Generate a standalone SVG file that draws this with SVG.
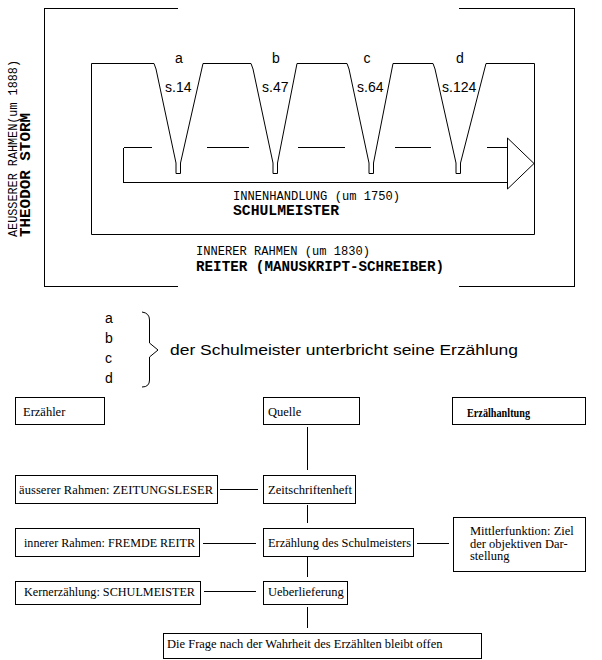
<svg xmlns="http://www.w3.org/2000/svg" width="602" height="660" viewBox="0 0 602 660">
<style>
.ln{fill:none;stroke:#000;stroke-width:1;shape-rendering:crispEdges}
.sl{fill:none;stroke:#000;stroke-width:1}
.bx{fill:#fff;stroke:#000;stroke-width:1;shape-rendering:crispEdges}
.mono{font-family:"Liberation Mono","Courier New",monospace;font-size:12px;fill:#000}
.monob{font-family:"Liberation Mono","Courier New",monospace;font-size:14px;font-weight:bold;fill:#000}
.sans{font-family:"Liberation Sans",Arial,sans-serif;font-size:14px;fill:#000}
.ser{font-family:"Liberation Serif","Times New Roman",serif;font-size:12.5px;fill:#000}
</style>
<rect width="602" height="660" fill="#fff"/>

<g id="outer-frame">
<path class="ln" d="M178,8.5H44.5V286.5H178M459,8.5H574.5V286.5H459"/>
<text class="mono" transform="translate(17,237) rotate(-90)" textLength="177" lengthAdjust="spacingAndGlyphs">AEUSSERER RAHMEN(um 1888)</text>
<text class="monob" transform="translate(30,237) rotate(-90)" textLength="124" lengthAdjust="spacingAndGlyphs">THEODOR STORM</text>
</g>

<g id="inner-frame">
<path class="sl" d="M91.5,63.5H154L156,69L176,163V173.5H180.5V163L203,63.5H251L253,69L273,163V173.5H277.5V163L297,63.5H347L349,69L369,163V173.5H373.5V163L393,63.5H433L435,69L456,163V173.5H460.5V163L486,63.5H534.5V234.5H91.5Z"/>
<text class="mono" x="196" y="255" textLength="174" lengthAdjust="spacingAndGlyphs">INNERER RAHMEN (um 1830)</text>
<text class="monob" x="196" y="271" textLength="248" lengthAdjust="spacingAndGlyphs">REITER (MANUSKRIPT-SCHREIBER)</text>
</g>

<g id="innenhandlung">
<path class="ln" d="M123.5,147.5H152M207,147.5H249M298,147.5H345M395,147.5H431M487,147.5H507.5M123.5,147.5V182.5H507.5"/>
<path class="sl" d="M507.5,138V189L534,163.5Z"/>
<text class="mono" x="233" y="200" textLength="167" lengthAdjust="spacingAndGlyphs">INNENHANDLUNG (um 1750)</text>
<text class="monob" x="233" y="215" font-size="13" textLength="106" lengthAdjust="spacingAndGlyphs">SCHULMEISTER</text>
</g>

<g id="interruptions">
<text class="sans" x="179" y="63" text-anchor="middle">a</text>
<text class="sans" x="276" y="63" text-anchor="middle">b</text>
<text class="sans" x="367" y="63" text-anchor="middle">c</text>
<text class="sans" x="460" y="63" text-anchor="middle">d</text>
<text class="sans" x="165" y="92" font-size="13">s.14</text>
<text class="sans" x="262" y="92" font-size="13">s.47</text>
<text class="sans" x="357" y="92" font-size="13">s.64</text>
<text class="sans" x="442" y="92" font-size="13">s.124</text>
</g>

<g id="legend">
<text class="sans" x="105" y="323">a</text>
<text class="sans" x="105" y="343">b</text>
<text class="sans" x="105" y="363">c</text>
<text class="sans" x="105" y="383">d</text>
<path class="sl" d="M142,312Q149.5,313 149.5,320V343L158,350L149.5,357V380Q149.5,387 142,387"/>
<text class="sans" x="170" y="355" textLength="348" lengthAdjust="spacingAndGlyphs">der Schulmeister unterbricht seine Erzählung</text>
</g>

<g id="connectors">
<path class="ln" d="M307.5,427V470M307.5,505V523M307.5,557V577M307.5,607V628M220,489.5H258M203,543.5H256M417,543.5H449M204,591.5H256"/>
</g>

<g id="n-erzaehler"><rect class="bx" x="15.5" y="397.5" width="89" height="27"/><text class="ser" x="23" y="416">Erzähler</text></g>
<g id="n-quelle"><rect class="bx" x="263.5" y="397.5" width="96" height="27"/><text class="ser" x="268" y="416">Quelle</text></g>
<g id="n-erzaehlhaltung"><rect class="bx" x="452.5" y="397.5" width="133" height="27"/><text class="ser" x="467" y="417" font-size="11" font-weight="bold" textLength="63" lengthAdjust="spacingAndGlyphs">Erzälhanltung</text></g>
<g id="n-aeusserer"><rect class="bx" x="15.5" y="475.5" width="202" height="28"/><text class="ser" x="19" y="494" textLength="194" lengthAdjust="spacing">äusserer Rahmen: ZEITUNGSLESER</text></g>
<g id="n-zeitschrift"><rect class="bx" x="263.5" y="475.5" width="92" height="28"/><text class="ser" x="268" y="494" textLength="84" lengthAdjust="spacingAndGlyphs">Zeitschriftenheft</text></g>
<g id="n-innerer"><rect class="bx" x="15.5" y="528.5" width="184" height="28"/><text class="ser" x="24" y="547" textLength="171" lengthAdjust="spacingAndGlyphs">innerer Rahmen: FREMDE REITR</text></g>
<g id="n-erzaehlung"><rect class="bx" x="263.5" y="528.5" width="150" height="28"/><text class="ser" x="268" y="547" textLength="143" lengthAdjust="spacingAndGlyphs">Erzählung des Schulmeisters</text></g>
<g id="n-mittler"><rect class="bx" x="453.5" y="517.5" width="132" height="54"/><text class="ser" font-size="11.5"><tspan x="470" y="535">Mittlerfunktion: Ziel</tspan><tspan x="470" y="547.5">der objektiven Dar-</tspan><tspan x="470" y="560">stellung</tspan></text></g>
<g id="n-kern"><rect class="bx" x="15.5" y="581.5" width="185" height="23"/><text class="ser" x="24" y="596" textLength="171" lengthAdjust="spacingAndGlyphs">Kernerzählung: SCHULMEISTER</text></g>
<g id="n-ueberlieferung"><rect class="bx" x="263.5" y="581.5" width="84" height="23"/><text class="ser" x="268" y="596">Ueberlieferung</text></g>
<g id="n-frage"><rect class="bx" x="163.5" y="633.5" width="318" height="25"/><text class="ser" x="167" y="648">Die Frage nach der Wahrheit des Erzählten bleibt offen</text></g>
</svg>
